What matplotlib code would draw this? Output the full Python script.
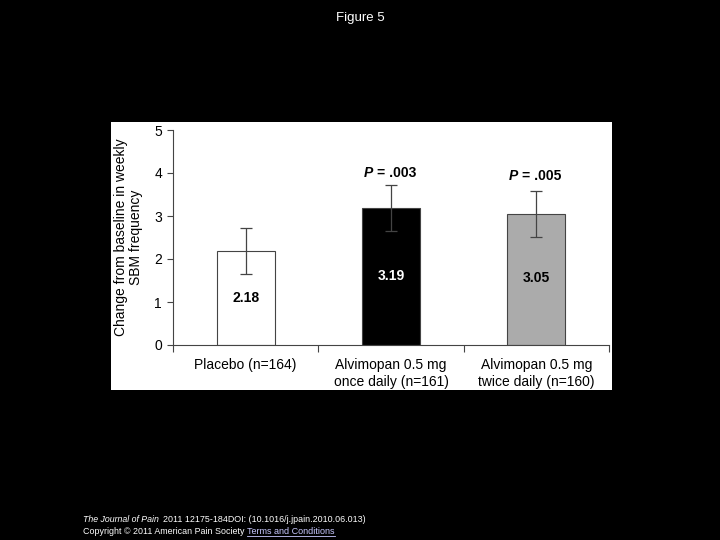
import matplotlib
matplotlib.use("Agg")
import matplotlib.pyplot as plt
from matplotlib.transforms import offset_copy

plt.rcParams['font.family'] = ['Liberation Sans', 'DejaVu Sans']

# data
groups = ["Placebo (n=164)", "Alvimopan 0.5 mg\nonce daily (n=161)",
          "Alvimopan 0.5 mg\ntwice daily (n=160)"]
values = [2.18, 3.19, 3.05]
err_lo = [0.53, 0.53, 0.53]
err_hi = [0.54, 0.53, 0.54]
pvals = ["", "= .003", "= .005"]
p_y = [0, 4.0, 3.93]
bar_colors = ["white", "black", "#ababab"]
label_colors = ["black", "white", "black"]
label_y = [1.1, 1.6, 1.55]
yticks = [0, 1, 2, 3, 4, 5]

fig = plt.figure(figsize=(7.2, 5.4), dpi=100)
fig.patch.set_facecolor("black")

# white figure panel behind the chart
bg = fig.add_axes([111/720, 1-390/540, 501/720, 268/540], zorder=-1)
bg.set_facecolor("white")
bg.set_xticks([])
bg.set_yticks([])
for s in bg.spines.values():
    s.set_visible(False)

ax = fig.add_axes([173/720, 1-345/540, 436/720, 215/540])
ax.set_facecolor("white")
x = list(range(len(values)))
ax.bar(x, values, width=0.4, color=bar_colors, edgecolor="#444444", linewidth=0.8, zorder=2)
ax.errorbar(x, values, yerr=[err_lo, err_hi], fmt="none", ecolor="#444444",
            elinewidth=0.9, capsize=4, capthick=0.9, zorder=3)

for i, v in enumerate(values):
    ax.text(i, label_y[i], f"{v:.2f}", ha="center", va="center", fontsize=10,
            fontweight="bold", color=label_colors[i])
    if pvals[i]:
        tl = offset_copy(ax.transData, fig=fig, x=-13, y=0, units="points")
        tr = offset_copy(ax.transData, fig=fig, x=-10, y=0, units="points")
        ax.text(i, p_y[i], "P", ha="right", va="center", fontsize=10,
                fontweight="bold", style="italic", transform=tl)
        ax.text(i, p_y[i], pvals[i], ha="left", va="center", fontsize=10,
                fontweight="bold", transform=tr)

ax.set_xlim(-0.5, 2.5)
ax.set_ylim(0, 5)
ax.set_yticks(yticks)
ax.tick_params(axis="y", labelsize=10, length=4, width=0.8, color="#444444", pad=4)
ax.set_xticks([-0.5, 0.5, 1.5, 2.5])
ax.set_xticklabels([])
ax.tick_params(axis="x", length=5, width=0.8, color="#444444")
for i, g in enumerate(groups):
    ax.text(i, -0.3, g, ha="center", va="top", fontsize=10, linespacing=1.25)
for s in ["top", "right"]:
    ax.spines[s].set_visible(False)
for s in ["left", "bottom"]:
    ax.spines[s].set_color("#444444")
    ax.spines[s].set_linewidth(0.8)
ax.set_ylabel("Change from baseline in weekly\nSBM frequency", fontsize=10,
              linespacing=1.1, labelpad=8)

fig.text(0.5, 1-18/540, "Figure 5", color="white", ha="center", va="center", fontsize=9.5)
fig.text(83/720, 1-519/540, "The Journal of Pain", color="white", fontsize=6.3,
         style="italic", va="center")
fig.text(163/720, 1-519/540, "2011 12175-184DOI: (10.1016/j.jpain.2010.06.013)",
         color="white", fontsize=6.4, va="center")
fig.text(83/720, 1-532/540, "Copyright \u00a9 2011 American Pain Society", color="white",
         fontsize=6.4, va="center")
fig.text(247/720, 1-532/540, "Terms and Conditions", color="#c8c8ff", fontsize=6.5,
         va="center")
fig.lines.append(plt.Line2D([247/720, 335/720], [1-536/540, 1-536/540],
                            transform=fig.transFigure, color="#c8c8ff", linewidth=0.6))

fig.savefig("out.png", dpi=100, facecolor="black")
